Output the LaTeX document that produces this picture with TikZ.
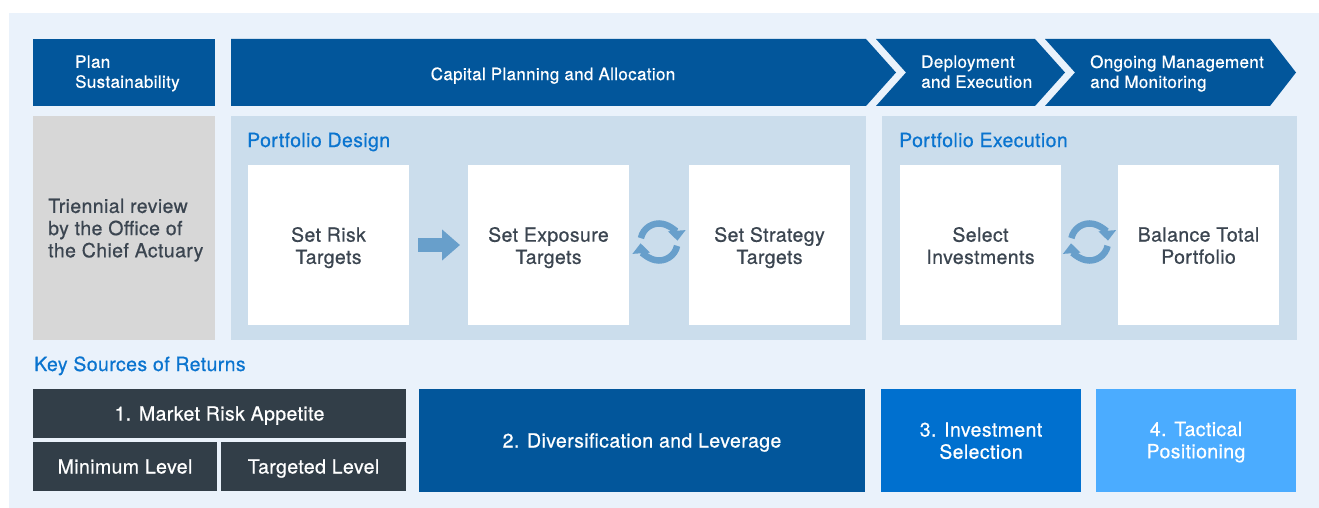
\documentclass[tikz,border=0pt]{standalone}
\usepackage{fontspec}
\setmainfont{TeX Gyre Heros}[FakeBold=0.6, LetterSpace=2]
\usepackage{tikz}
\usetikzlibrary{positioning}
\usetikzlibrary{calc}
\usetikzlibrary{arrows.meta}

\definecolor{pageBg}{HTML}{EAF2FB}
\definecolor{navy}{HTML}{02569B}
\definecolor{panelBlue}{HTML}{CBDDEC}
\definecolor{greyBox}{HTML}{D7D7D7}
\definecolor{slate}{HTML}{323E48}
\definecolor{iconBlue}{HTML}{689FCB}
\definecolor{headBlue}{HTML}{0A74CF}
\definecolor{midBlue}{HTML}{0070CF}
\definecolor{skyBlue}{HTML}{4BACFF}
\definecolor{textGrey}{HTML}{3B4550}

\begin{document}
\begin{tikzpicture}[x=1pt, y=-1pt,
    lift/.style={execute at begin node={\rule{0pt}{#1}}},
    drop/.style={execute at end node={\rule[-#1]{0pt}{0pt}}},
    bigtext/.style={font=\fontsize{19.5}{22.2}\selectfont, lift=20pt, drop=6pt},
    box/.style={anchor=north west, inner sep=0pt, outer sep=0pt, align=center, bigtext},
    boxlabel/.style={inner sep=0pt, align=center, bigtext},
    whitebox/.style={box, fill=white, minimum width=161pt, minimum height=160pt},
    panel/.style={anchor=north west, inner sep=0pt, outer sep=0pt, fill=panelBlue, minimum height=224pt},
    heading/.style={anchor=west, inner sep=0pt, text=headBlue, bigtext},
    banner/.style={anchor=west, inner sep=0pt, align=left, text=white,
                font=\fontsize{17}{20}\selectfont, drop=4.8pt},
    source/.style={box, text=white, minimum height=103pt},
    turnarrow/.style={iconBlue, line width=6.5pt, -{Triangle[width=17pt,length=10pt]}},
  ]

  \useasboundingbox (0,0) rectangle (1319,508);
  \fill [pageBg] (9,13) rectangle (1319,508);

  % top banner
  \node [box, fill=navy, minimum width=182pt, minimum height=67pt] (plan) at (33,39) {};
  \fill [navy] (231,39) -- (866,39) -- (896,72.5) -- (866,106) -- (231,106) -- cycle;
  \fill [navy] (876,39) -- (1035,39) -- (1065,72.5) -- (1035,106) -- (876,106) -- (906,72.5) -- cycle;
  \fill [navy] (1045,39) -- (1270,39) -- (1296,72.5) -- (1270,106) -- (1045,106) -- (1075,72.5) -- cycle;

  \node [banner] (planlbl) at (75,74) {Plan\\Sustainability};
  \node [banner, lift=17pt, anchor=center] (capital) at (553,74) {Capital Planning and Allocation};
  \node [banner] (deploy) at (921,74) {Deployment\\and Execution};
  \node [banner] (ongoing) at (1090,74) {Ongoing Management\\and Monitoring};

  % middle row
  \node [box, fill=greyBox, minimum width=182pt, minimum height=224pt] (review) at (33,116) {};
  \node [anchor=west, inner sep=0pt, align=left, text=textGrey, bigtext] (reviewlbl)
        at ($(review.west)+(15,3)$) {Triennial review\\by the Office of\\the Chief Actuary};

  \node [panel, minimum width=635pt] (design) at (231,116) {};
  \node [heading] (designlbl) at (247,140) {Portfolio Design};
  \node [whitebox] (risk) at (248,165) {};
  \node [whitebox] (exposure) at (468,165) {};
  \node [whitebox] (strategy) at (689,165) {};
  \node [boxlabel, text=textGrey] (risklbl) at ($(risk.center)+(0,3.5)$) {Set Risk\\Targets};
  \node [boxlabel, text=textGrey] (exposurelbl) at ($(exposure.center)+(0,3.5)$) {Set Exposure\\Targets};
  \node [boxlabel, text=textGrey] (strategylbl) at ($(strategy.center)+(0,3.5)$) {Set Strategy\\Targets};

  \node [panel, minimum width=415pt] (execution) at (882,116) {};
  \node [heading] (executionlbl) at (899,140) {Portfolio Execution};
  \node [whitebox] (select) at (900,165) {};
  \node [whitebox] (balance) at (1118,165) {};
  \node [boxlabel, text=textGrey] (selectlbl) at ($(select.center)+(0,3.5)$) {Select\\Investments};
  \node [boxlabel, text=textGrey] (balancelbl) at ($(balance.center)+(0,3.5)$) {Balance Total\\Portfolio};

  \draw [iconBlue, line width=14pt, -{Triangle[width=30pt,length=18pt]},
         shorten <=9pt, shorten >=8pt] (risk.east) -- (exposure.west);

  \coordinate (loopA) at ($(exposure.east)!0.5!(strategy.west)+(0,-3)$);
  \coordinate (loopB) at ($(select.east)!0.5!(balance.west)+(0,-3)$);
  \foreach \c in {loopA,loopB} {
    \draw [turnarrow] ($(\c)+(-168:18.5)$) arc [start angle=-168, end angle=-4, radius=18.5];
    \draw [turnarrow] ($(\c)+(12:18.5)$) arc [start angle=12, end angle=176, radius=18.5];
  }

  % key sources of returns
  \node [heading] (keylbl) at (34,364) {Key Sources of Returns};
  \node [box, fill=slate, text=white, minimum width=373pt, minimum height=49pt] (market) at (33,389)
        {1. Market Risk Appetite};
  \node [box, fill=slate, text=white, minimum width=184pt, minimum height=49pt] (minimum) at (33,442)
        {Minimum Level};
  \node [box, fill=slate, text=white, minimum width=185pt, minimum height=49pt] (targeted) at (221,442)
        {Targeted Level};
  \node [source, fill=navy, minimum width=446pt] (divers) at (419,389) {2. Diversification and Leverage};
  \node [source, fill=midBlue, minimum width=200pt] (invest) at (881,389) {};
  \node [source, fill=skyBlue, minimum width=200pt] (tactical) at (1096,389) {};
  \node [boxlabel, text=white] (investlbl) at ($(invest.center)+(0,3)$) {3. Investment\\Selection};
  \node [boxlabel, text=white] (tacticallbl) at ($(tactical.center)+(0,2.5)$) {4. Tactical\\Positioning};

\end{tikzpicture}
\end{document}
